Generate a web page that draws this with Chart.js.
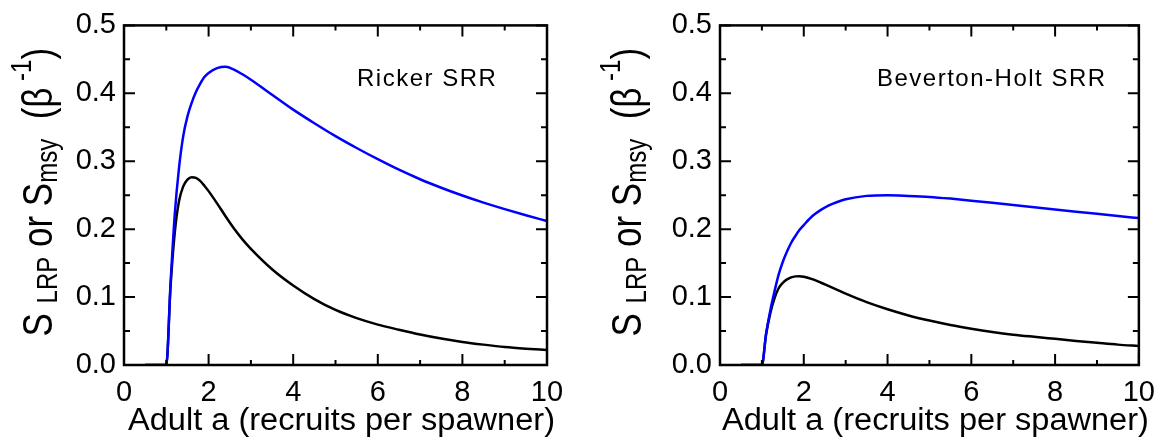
<!DOCTYPE html>
<html>
<head>
<meta charset="utf-8">
<script src="https://cdn.jsdelivr.net/npm/chart.js@4.4.1/dist/chart.umd.min.js"></script>
<style>
  html,body{margin:0;padding:0;background:#fff;}
  #wrap{position:relative;width:1166px;height:440px;overflow:hidden;}
  canvas{position:absolute;top:0;}
</style>
</head>
<body>
<div id="wrap">
  <canvas id="c1" width="583" height="440" style="left:0"></canvas>
  <canvas id="c2" width="583" height="440" style="left:583px"></canvas>
</div>
<script>
// ---------------- data ----------------
const adultA = [0.5, 1.0, 1.1, 1.2, 1.3, 1.4, 1.5, 1.6, 1.7, 1.8, 1.9, 2.0, 2.2, 2.4, 2.6, 2.8,
                3.0, 3.5, 4.0, 4.5, 5.0, 5.5, 6.0, 6.5, 7.0, 7.5, 8.0, 8.5, 9.0, 9.5, 10.0];

const rickerSmsy = [0, 0, 0.120, 0.222, 0.290, 0.337, 0.366, 0.386, 0.402, 0.414, 0.424, 0.430, 0.437, 0.439, 0.435, 0.428,
                    0.420, 0.398, 0.376, 0.356, 0.337, 0.3195, 0.3030, 0.2875, 0.2735, 0.2610, 0.2495, 0.2390, 0.2295, 0.2205, 0.212];
const rickerSlrp = [0, 0, 0.115, 0.195, 0.241, 0.263, 0.273, 0.2765, 0.2755, 0.271, 0.264, 0.256, 0.238, 0.219, 0.201, 0.185,
                    0.171, 0.141, 0.117, 0.097, 0.081, 0.069, 0.0595, 0.052, 0.045, 0.039, 0.034, 0.030, 0.0265, 0.024, 0.022];

const bhSmsy = [0, 0, 0.046, 0.080, 0.108, 0.133, 0.152, 0.167, 0.180, 0.190, 0.199, 0.206, 0.219, 0.228, 0.235, 0.240,
                0.244, 0.249, 0.250, 0.249, 0.2475, 0.2450, 0.2420, 0.2388, 0.2355, 0.2322, 0.2290, 0.2258, 0.2226, 0.2194, 0.2163];
const bhSlrp = [0, 0, 0.045, 0.076, 0.098, 0.113, 0.121, 0.126, 0.129, 0.1305, 0.1308, 0.130, 0.1265, 0.1215, 0.116, 0.1105,
                0.105, 0.0925, 0.082, 0.073, 0.0655, 0.059, 0.0535, 0.0487, 0.0447, 0.0415, 0.0385, 0.0355, 0.0327, 0.030, 0.028];

const xMajorTicks = [0, 2, 4, 6, 8, 10];
const xMinorTicks = [1, 3, 5, 7, 9];
const yMajorTicks = [0.0, 0.1, 0.2, 0.3, 0.4, 0.5];
const yMinorTicks = [0.05, 0.15, 0.25, 0.35, 0.45];

const panelLabels = ['Ricker SRR', 'Beverton-Holt SRR'];
const xTitle = 'Adult a (recruits per spawner)';
// y title pieces: [text, kind]  kind: n = normal, sub = subscript, sup = superscript
const yTitleParts = [['S','n'],[' ','n'],['LRP','sub'],[' or ','n'],['S','n'],['msy','sub'],['  (','n'],['\u03B2','n'],[' ','sub'],['-1','sup'],[')','n']];

// ---------------- drawing ----------------
const FONT = "'Liberation Sans', Arial, Helvetica, sans-serif";

const decor = {
  id: 'decor',
  afterDraw(chart, args, o) {
    const {ctx, chartArea: a, scales: {x, y}} = chart;
    ctx.save();
    ctx.strokeStyle = '#000';
    ctx.fillStyle = '#000';
    // frame
    ctx.lineWidth = 2.5;
    ctx.strokeRect(a.left, a.top, a.right - a.left, a.bottom - a.top);
    // inward ticks on all four sides
    ctx.lineWidth = 2;
    ctx.beginPath();
    const xt = (vals, len) => vals.forEach(v => {
      const p = x.getPixelForValue(v);
      ctx.moveTo(p, a.bottom); ctx.lineTo(p, a.bottom - len);
      ctx.moveTo(p, a.top); ctx.lineTo(p, a.top + len);
    });
    const yt = (vals, len) => vals.forEach(v => {
      const p = y.getPixelForValue(v);
      ctx.moveTo(a.left, p); ctx.lineTo(a.left + len, p);
      ctx.moveTo(a.right, p); ctx.lineTo(a.right - len, p);
    });
    xt(xMajorTicks, 11); xt(xMinorTicks, 5);
    yt(yMajorTicks, 11); yt(yMinorTicks, 6);
    ctx.stroke();

    // panel label
    ctx.save();
    ctx.font = `24px ${FONT}`;
    ctx.letterSpacing = '1.5px';
    ctx.textAlign = 'left';
    ctx.textBaseline = 'alphabetic';
    ctx.fillText(o.label, a.left + o.labelDx, a.top + 61);
    ctx.restore();

    // x title
    ctx.save();
    ctx.font = `31px ${FONT}`;
    ctx.textAlign = 'center';
    ctx.textBaseline = 'alphabetic';
    ctx.translate((a.left + a.right) / 2 + 6, 430);
    ctx.scale(1.05, 1);
    ctx.fillText(xTitle, 0, 0);
    ctx.restore();

    // y title (rotated, with sub/superscripts)
    ctx.save();
    const sizes = {n: 35, sub: 24, sup: 24};
    const dys = {n: 0, sub: 4, sup: -17};
    let total = 0;
    const widths = yTitleParts.map(([t, k]) => {
      ctx.font = `${sizes[k]}px ${FONT}`;
      const w = ctx.measureText(t).width;
      total += w;
      return w;
    });
    ctx.translate(o.yTitleX, (a.top + a.bottom) / 2 - 3);
    ctx.rotate(-Math.PI / 2);
    ctx.scale(1, 1.22);
    ctx.textAlign = 'left';
    ctx.textBaseline = 'alphabetic';
    let cx = -total / 2;
    yTitleParts.forEach(([t, k], i) => {
      ctx.font = `${sizes[k]}px ${FONT}`;
      ctx.fillText(t, cx, dys[k]);
      cx += widths[i];
    });
    ctx.restore();

    ctx.restore();
  }
};

function makeChart(id, smsy, slrp, label, labelDx, yAxisWidth, padRight, yTitleX) {
  const toPts = arr => arr.map((v, i) => ({x: adultA[i], y: v}));
  return new Chart(document.getElementById(id), {
    type: 'line',
    data: {
      datasets: [
        {data: toPts(smsy), borderColor: '#0000ff', borderWidth: 2.5, pointRadius: 0, cubicInterpolationMode: 'monotone', fill: false},
        {data: toPts(slrp), borderColor: '#000000', borderWidth: 2.5, pointRadius: 0, cubicInterpolationMode: 'monotone', fill: false}
      ]
    },
    options: {
      responsive: false,
      animation: false,
      devicePixelRatio: 1,
      layout: {autoPadding: false, padding: {left: 0, right: padRight, top: 21, bottom: 0}},
      plugins: {
        legend: {display: false},
        tooltip: {enabled: false},
        decor: {label, labelDx, yTitleX}
      },
      scales: {
        x: {
          type: 'linear', min: 0, max: 10,
          afterBuildTicks: s => { s.ticks = xMajorTicks.map(v => ({value: v})); },
          afterFit: s => { s.height = 75; },
          grid: {display: false, drawTicks: false},
          border: {display: false},
          ticks: {padding: 11, color: '#000', font: {family: FONT, size: 29}, maxRotation: 0,
                  callback: v => String(v)}
        },
        y: {
          type: 'linear', min: 0, max: 0.5,
          afterBuildTicks: s => { s.ticks = yMajorTicks.map(v => ({value: v})); },
          afterFit: s => { s.width = yAxisWidth; },
          grid: {display: false, drawTicks: false},
          border: {display: false},
          ticks: {padding: 8, color: '#000', font: {family: FONT, size: 29},
                  callback: v => Number(v).toFixed(1)}
        }
      }
    },
    plugins: [decor]
  });
}

makeChart('c1', rickerSmsy, rickerSlrp, panelLabels[0], 233, 124, 36, 52);
makeChart('c2', bhSmsy, bhSlrp, panelLabels[1], 157, 137, 23, 58);
</script>
</body>
</html>
